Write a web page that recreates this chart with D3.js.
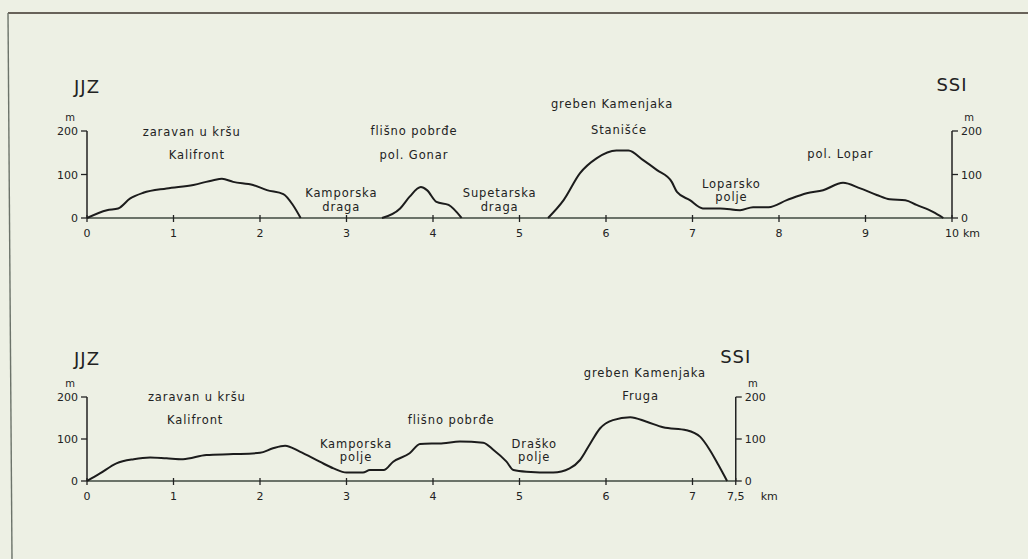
<!DOCTYPE html>
<html>
<head>
<meta charset="utf-8">
<script src="https://cdn.jsdelivr.net/npm/d3@7"></script>
<style>
  body { margin: 0; background: #edf0e4; }
  svg { display: block; }
  text { font-family: 'DejaVu Sans', sans-serif; fill: #222; }
</style>
</head>
<body>
<svg id="chart" width="1028" height="559"></svg>
<script>
// profile 1 (Kalifront - Lopar), km / m, three segments above sea level
const topSegA = [[0,0],[0.23,18],[0.36,22],[0.5,45],[0.65,58],[0.92,68],[1.23,76],[1.46,87],[1.56,90],[1.69,83],[1.92,76],[2.08,64],[2.27,55],[2.38,30],[2.47,0]];
const topSegB = [[3.41,0],[3.62,22],[3.73,49],[3.86,71],[3.93,64],[4.04,37],[4.18,30],[4.33,0]];
const topSegC = [[5.33,0],[5.51,41],[5.70,103],[5.89,137],[6.12,155],[6.26,155],[6.43,133],[6.59,110],[6.76,83],[6.82,60],[6.97,41],[7.12,22],[7.32,22],[7.55,18],[7.70,25],[7.88,25],[8.09,41],[8.32,57],[8.51,64],[8.74,81],[8.94,68],[9.13,53],[9.28,43],[9.46,41],[9.59,30],[9.78,14],[9.90,0]];

// profile 2 (Kalifront - Fruga)
const bottomProfile = [[0,0],[0.15,18],[0.34,42],[0.54,52],[0.73,56],[0.92,54],[1.11,52],[1.38,62],[1.69,64],[2.0,67],[2.15,78],[2.29,84],[2.46,70],[2.69,46],[2.85,30],[3.0,20],[3.19,20],[3.27,26],[3.43,26],[3.54,46],[3.73,66],[3.85,88],[4.12,90],[4.31,94],[4.58,91],[4.70,74],[4.85,46],[4.93,26],[5.08,22],[5.39,20],[5.58,30],[5.70,50],[5.82,90],[5.93,125],[6.08,145],[6.28,152],[6.47,141],[6.66,128],[6.93,121],[7.09,105],[7.20,74],[7.30,38],[7.40,0]];

const topKmTicks = [0,1,2,3,4,5,6,7,8,9,10];
const bottomKmTicks = [0,1,2,3,4,5,6,7,7.5];
const heightTicks = [0,100,200];

// place names: [text, km, m]
const topNames = [
  ['zaravan u kršu', 1.21, 188], ['Kalifront', 1.27, 136],
  ['flišno pobrđe', 3.78, 191], ['pol. Gonar', 3.78, 136],
  ['Kamporska', 2.94, 48], ['draga', 2.94, 16],
  ['Supetarska', 4.77, 48], ['draga', 4.77, 16],
  ['greben Kamenjaka', 6.07, 253], ['Stanišće', 6.15, 193],
  ['Loparsko', 7.45, 70], ['polje', 7.45, 38],
  ['pol. Lopar', 8.71, 138]
];
const bottomNames = [
  ['zaravan u kršu', 1.27, 190], ['Kalifront', 1.25, 136],
  ['Kamporska', 3.11, 79], ['polje', 3.11, 48],
  ['flišno pobrđe', 4.21, 136],
  ['Draško', 5.17, 79], ['polje', 5.17, 48],
  ['greben Kamenjaka', 6.45, 248], ['Fruga', 6.40, 193]
];

const svg = d3.select('#chart');

// frame of the scanned figure
svg.append('line').attr('x1', 8).attr('y1', 13).attr('x2', 1028).attr('y2', 13)
  .attr('stroke', '#3b332b').attr('stroke-width', 1.6);
svg.append('line').attr('x1', 8).attr('y1', 13).attr('x2', 12).attr('y2', 559)
  .attr('stroke', '#6c736a').attr('stroke-width', 1.4);

function drawProfile(o) {
  const x = d3.scaleLinear().domain([0, o.maxKm]).range([87, 87 + 86.5 * o.maxKm]);
  const y = d3.scaleLinear().domain([0, 200]).range([o.y0, o.y200]);
  const g = svg.append('g');

  // baseline with km ticks
  g.append('line').attr('x1', x(0)).attr('x2', x(o.maxKm)).attr('y1', y(0)).attr('y2', y(0))
    .attr('stroke', '#3f4a40').attr('stroke-width', 1.6);
  g.selectAll('.kt').data(o.kmTicks).enter().append('line')
    .attr('x1', d => x(d)).attr('x2', d => x(d)).attr('y1', y(0) - 3).attr('y2', y(0) + 4)
    .attr('stroke', '#222').attr('stroke-width', 1.3);
  g.selectAll('.kl').data(o.kmTicks).enter().append('text')
    .attr('x', d => x(d)).attr('y', y(0) + 19)
    .attr('text-anchor', 'middle').attr('font-size', 11)
    .text(d => d === 7.5 ? '7,5' : d);
  g.append('text').attr('x', x(o.maxKm) + o.kmDx).attr('y', y(0) + 19)
    .attr('font-size', 11).text('km');

  // height axes, left and right
  [[x(0), -1], [x(o.maxKm), 1]].forEach(([ax, side]) => {
    g.append('line').attr('x1', ax).attr('x2', ax).attr('y1', y(0)).attr('y2', y(200))
      .attr('stroke', '#222').attr('stroke-width', 1.5);
    g.selectAll(null).data(heightTicks).enter().append('line')
      .attr('x1', ax).attr('x2', ax + side * 6).attr('y1', d => y(d)).attr('y2', d => y(d))
      .attr('stroke', '#222').attr('stroke-width', 1.3);
    g.selectAll(null).data(heightTicks).enter().append('text')
      .attr('x', ax + side * 9).attr('y', d => y(d) + 4)
      .attr('text-anchor', side < 0 ? 'end' : 'start').attr('font-size', 11)
      .text(d => d);
    g.append('text').attr('x', ax + side * 17).attr('y', y(200) - 10)
      .attr('text-anchor', 'middle').attr('font-size', 10).text('m');
  });

  // direction labels
  g.append('text').attr('x', x(0)).attr('y', o.dirY).attr('text-anchor', 'middle')
    .attr('font-size', 18).attr('letter-spacing', 1).text('JJZ');
  g.append('text').attr('x', x(o.maxKm)).attr('y', o.dirY - 2).attr('text-anchor', 'middle')
    .attr('font-size', 18).attr('letter-spacing', 1).text('SSI');

  // terrain
  const line = d3.line().x(d => x(d[0])).y(d => y(d[1])).curve(d3.curveMonotoneX);
  o.segments.forEach(s => {
    g.append('path').attr('d', line(s)).attr('fill', 'none')
      .attr('stroke', '#1c1c1c').attr('stroke-width', 2).attr('stroke-linejoin', 'round');
  });

  // place names
  g.selectAll('.nm').data(o.names).enter().append('text')
    .attr('x', d => x(d[1])).attr('y', d => y(d[2]))
    .attr('text-anchor', 'middle').attr('font-size', 11.5).attr('letter-spacing', 0.9)
    .text(d => d[0]);
}

drawProfile({ maxKm: 10, y0: 218, y200: 131, kmTicks: topKmTicks, kmDx: 11, dirY: 93,
  segments: [topSegA, topSegB, topSegC], names: topNames });
drawProfile({ maxKm: 7.5, y0: 481, y200: 397, kmTicks: bottomKmTicks, kmDx: 25, dirY: 365,
  segments: [bottomProfile], names: bottomNames });
</script>
</body>
</html>
